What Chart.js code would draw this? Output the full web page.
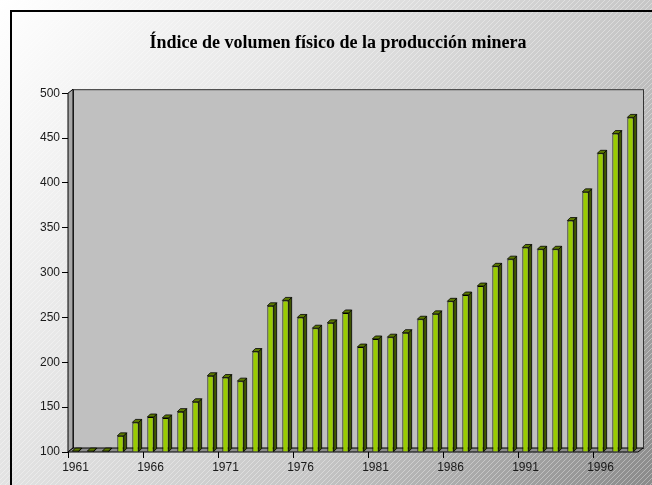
<!DOCTYPE html>
<html>
<head>
<meta charset="utf-8">
<script src="https://cdn.jsdelivr.net/npm/chart.js@4/dist/chart.umd.min.js"></script>
<style>
  body { margin: 0; background: #fff; }
  #wrap { width: 652px; height: 485px; }
</style>
</head>
<body>
<div id="wrap"><canvas id="chart" width="652" height="485"></canvas></div>
<script>
const years = [];
for (let y = 1961; y <= 1998; y++) years.push(String(y));

const indexValues = [
    101, 101, 101, 118, 133, 139, 138, 145, 156, 185,
    183, 179, 212, 263, 269, 250, 238, 244, 255, 217,
    226, 228, 233, 248, 254, 268, 275, 285, 307, 315,
    328, 326, 326, 358, 390, 433, 455, 473
];

const yTicks = [100, 150, 200, 250, 300, 350, 400, 450, 500];

const WALL = 5;   // depth of the walls/floor
const BAR_DEPTH = 3;

// gradient + hatch background, walls and floor
const backdrop = {
    id: "backdrop",
    beforeDraw(chart) {
        const ctx = chart.ctx;
        const w = chart.width, h = chart.height;
        const a = chart.chartArea;
        ctx.save();
        const g = ctx.createLinearGradient(0, 0, w, h);
        g.addColorStop(0, "#ffffff");
        g.addColorStop(0.3, "#e8e8e8");
        g.addColorStop(0.65, "#c6c6c6");
        g.addColorStop(1, "#8a8a8a");
        ctx.fillStyle = g;
        ctx.fillRect(0, 0, w, h);

        ctx.strokeStyle = "rgba(255,255,255,0.35)";
        ctx.lineWidth = 1;
        ctx.beginPath();
        for (let k = -h; k < w + h; k += 5) {
            ctx.moveTo(k, h);
            ctx.lineTo(k + h, 0);
        }
        ctx.stroke();

        ctx.strokeStyle = "#000";
        ctx.lineWidth = 2;
        ctx.beginPath();
        ctx.moveTo(11, h + 2);
        ctx.lineTo(11, 11);
        ctx.lineTo(w + 2, 11);
        ctx.stroke();

        // back wall
        ctx.fillStyle = "#c0c0c0";
        ctx.fillRect(a.left + WALL, a.top - 4, a.right - a.left, a.bottom - a.top);
        ctx.strokeStyle = "#333";
        ctx.lineWidth = 1;
        ctx.strokeRect(a.left + WALL + 0.5, a.top - 4 + 0.5, a.right - a.left, a.bottom - a.top);

        // left wall
        ctx.fillStyle = "#a8a8a8";
        ctx.beginPath();
        ctx.moveTo(a.left, a.bottom);
        ctx.lineTo(a.left, a.top);
        ctx.lineTo(a.left + WALL, a.top - 4);
        ctx.lineTo(a.left + WALL, a.bottom - 4);
        ctx.closePath();
        ctx.fill();
        ctx.strokeStyle = "#000";
        ctx.stroke();

        // floor
        ctx.fillStyle = "#8c8c8c";
        ctx.beginPath();
        ctx.moveTo(a.left, a.bottom);
        ctx.lineTo(a.right, a.bottom);
        ctx.lineTo(a.right + WALL, a.bottom - 4);
        ctx.lineTo(a.left + WALL, a.bottom - 4);
        ctx.closePath();
        ctx.fill();
        ctx.stroke();
        ctx.restore();
    }
};

// side and top faces of the bars
const bars3d = {
    id: "bars3d",
    afterDatasetsDraw(chart) {
        const ctx = chart.ctx;
        const d = BAR_DEPTH;
        ctx.save();
        ctx.lineWidth = 0.8;
        ctx.strokeStyle = "#000";
        chart.getDatasetMeta(0).data.forEach((bar) => {
            const p = bar.getProps(["x", "y", "width", "base"], true);
            const l = p.x - p.width / 2, r = p.x + p.width / 2;
            ctx.fillStyle = "#3f5500";
            ctx.beginPath();
            ctx.moveTo(r, p.y);
            ctx.lineTo(r + d, p.y - d);
            ctx.lineTo(r + d, p.base - d);
            ctx.lineTo(r, p.base);
            ctx.closePath();
            ctx.fill();
            ctx.stroke();
            ctx.fillStyle = "#5c7a00";
            ctx.beginPath();
            ctx.moveTo(l, p.y);
            ctx.lineTo(l + d, p.y - d);
            ctx.lineTo(r + d, p.y - d);
            ctx.lineTo(r, p.y);
            ctx.closePath();
            ctx.fill();
            ctx.stroke();
        });
        ctx.restore();
    }
};

const tickFont = { family: "'Liberation Sans', Arial, sans-serif", size: 12 };

new Chart(document.getElementById("chart").getContext("2d"), {
    type: "bar",
    data: {
        labels: years,
        datasets: [{
            label: "Índice",
            data: indexValues,
            backgroundColor: "#99cc00",
            borderColor: "#000",
            borderWidth: 1,
            categoryPercentage: 1,
            barPercentage: 0.42,
            base: 100
        }]
    },
    options: {
        responsive: false,
        animation: false,
        layout: { padding: { left: 38, right: 14, top: 0, bottom: 0 } },
        plugins: {
            legend: { display: false },
            tooltip: { enabled: false },
            title: {
                display: true,
                text: "Índice de volumen físico de la producción minera",
                color: "#000",
                font: { family: "'Liberation Serif', 'Times New Roman', serif", size: 18, weight: "bold" },
                padding: { top: 33, bottom: 38.6 }
            }
        },
        scales: {
            x: {
                offset: true,
                border: { display: false },
                grid: {
                    offset: true,
                    drawOnChartArea: false,
                    tickLength: 6,
                    tickColor: (c) => (c.index % 5 === 0 ? "#000" : "rgba(0,0,0,0)")
                },
                ticks: {
                    autoSkip: false,
                    maxRotation: 0,
                    padding: 2,
                    color: "#1a1a1a",
                    font: tickFont,
                    callback: function (val, i) {
                        return i % 5 === 0 ? this.getLabelForValue(val) : "";
                    }
                },
                afterFit: (scale) => { scale.height = 33; }
            },
            y: {
                min: 100,
                max: 500,
                border: { display: false },
                grid: { drawOnChartArea: false, tickLength: 6, tickColor: "#000" },
                afterBuildTicks: (scale) => {
                    scale.ticks = yTicks.map((v) => ({ value: v }));
                },
                ticks: { padding: 2, color: "#1a1a1a", font: tickFont },
                afterFit: (scale) => { scale.width = 30; }
            }
        }
    },
    plugins: [backdrop, bars3d]
});
</script>
</body>
</html>
